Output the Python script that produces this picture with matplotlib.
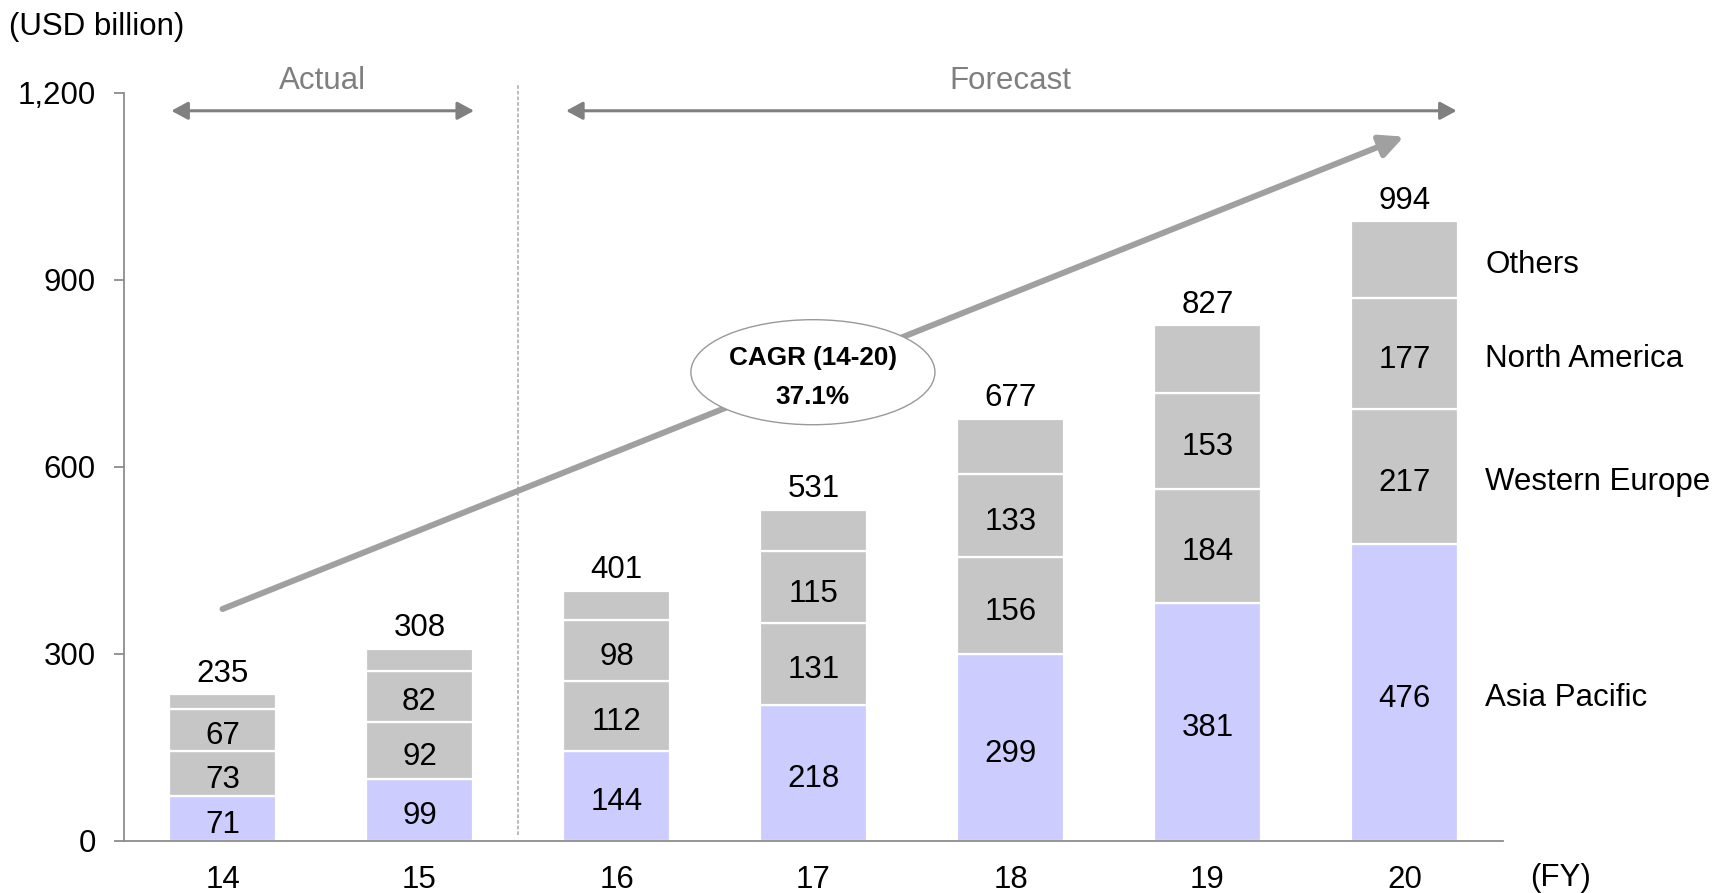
import matplotlib
matplotlib.use("Agg")
import matplotlib.pyplot as plt
from matplotlib.patches import Ellipse
from matplotlib.ticker import FuncFormatter, FixedLocator

plt.rcParams['font.family'] = ['Liberation Sans', 'DejaVu Sans']

# Market size by region (USD billion), fiscal years 2014-2020
years = ["14", "15", "16", "17", "18", "19", "20"]
asia_pacific = [71, 99, 144, 218, 299, 381, 476]
western_europe = [73, 92, 112, 131, 156, 184, 217]
north_america = [67, 82, 98, 115, 133, 153, 177]
totals = [235, 308, 401, 531, 677, 827, 994]
others = [t - a - w - n for t, a, w, n in zip(totals, asia_pacific, western_europe, north_america)]

region_names = ["Asia Pacific", "Western Europe", "North America", "Others"]
region_colors = ["#CCCCFF", "#C6C6C6", "#C6C6C6", "#C6C6C6"]
labelled_regions = [True, True, True, False]
y_ticks = [0, 300, 600, 900, 1200]

cagr_title = "CAGR (14-20)"
cagr_value = "37.1%"

FS = 22.5

fig = plt.figure(figsize=(17.29, 8.93), dpi=100)
ax = fig.add_axes([124 / 1729, 52.3 / 893, 1379 / 1729, 748 / 893])

x = list(range(len(years)))
bar_w = 0.543
series = [asia_pacific, western_europe, north_america, others]
bottoms = [0] * len(years)
seg_centers_last = []
for vals, color, show in zip(series, region_colors, labelled_regions):
    ax.bar(x, vals, width=bar_w, bottom=bottoms, color=color,
           edgecolor="white", linewidth=1.6, zorder=2)
    for i, (v, b) in enumerate(zip(vals, bottoms)):
        if show:
            ax.text(i, b + v / 2 - 10, f"{v}", ha="center", va="center",
                    fontsize=FS, color="black", zorder=3)
    seg_centers_last.append(bottoms[-1] + vals[-1] / 2)
    bottoms = [b + v for b, v in zip(bottoms, vals)]

# totals above bars
for i, t in enumerate(totals):
    ax.text(i, t + 33, f"{t}", ha="center", va="center", fontsize=FS, color="black")

# region labels beside the last bar
for name, yc in zip(region_names, seg_centers_last):
    ax.text(6.41, yc - 9, name, ha="left", va="center", fontsize=FS, color="black",
            clip_on=False)

# axes styling
axis_gray = "#8C8C8C"
ax.set_xlim(-0.5, 6.5)
ax.set_ylim(0, 1200)
for s in ("top", "right"):
    ax.spines[s].set_visible(False)
for s in ("left", "bottom"):
    ax.spines[s].set_color(axis_gray)
    ax.spines[s].set_linewidth(1.3)
ax.yaxis.set_major_locator(FixedLocator(y_ticks))
ax.yaxis.set_major_formatter(FuncFormatter(lambda v, p: f"{int(v):,}"))
ax.tick_params(axis="y", direction="out", length=7.2, width=1.3, color=axis_gray,
               pad=13.2, labelsize=FS, labelcolor="black")
ax.set_xticks(x)
ax.set_xticklabels(years)
ax.tick_params(axis="x", length=0, pad=17.5, labelsize=FS, labelcolor="black")

ax.text(6.79, -0.0505, "(FY)", transform=ax.get_xaxis_transform(), ha="center",
        va="center", fontsize=FS, clip_on=False)
fig.text(9 / 1729, 1 - 27.5 / 893, "(USD billion)", ha="left", va="center", fontsize=FS)

# actual / forecast divider
ax.plot([1.5, 1.5], [9, 1212], color="#A8A8A8", lw=1.1, dashes=(2.4, 1.3), zorder=1,
        clip_on=False)

arrow_gray = "#808080"
span_style = "<|-|>,head_length=0.5,head_width=0.27"
ax.annotate("", xy=(1.277, 1171), xytext=(-0.26, 1171),
            arrowprops=dict(arrowstyle=span_style, mutation_scale=20, color=arrow_gray,
                            lw=2.2, shrinkA=0, shrinkB=0), annotation_clip=False)
ax.annotate("", xy=(6.265, 1171), xytext=(1.744, 1171),
            arrowprops=dict(arrowstyle=span_style, mutation_scale=20, color=arrow_gray,
                            lw=2.2, shrinkA=0, shrinkB=0), annotation_clip=False)
ax.text(0.51, 1218, "Actual", ha="center", va="center", fontsize=FS,
        color="#7F7F7F", clip_on=False)
ax.text(4.0, 1218, "Forecast", ha="center", va="center", fontsize=FS,
        color="#7F7F7F", clip_on=False)

# growth trend arrow with CAGR bubble
ax.annotate("", xy=(5.997, 1129.5), xytext=(0.0, 371.7),
            arrowprops=dict(arrowstyle="-|>,head_length=0.7,head_width=0.34",
                            mutation_scale=20, color="#A0A0A0", lw=4.3,
                            shrinkA=0, shrinkB=0), zorder=4)
ax.add_patch(Ellipse((2.997, 751.6), 1.239, 168.5, facecolor="white",
                     edgecolor="#999999", lw=1.0, zorder=5))
ax.text(2.997, 775, cagr_title, ha="center", va="center", fontsize=18.8,
        fontweight="bold", zorder=6)
ax.text(2.997, 712, cagr_value, ha="center", va="center", fontsize=18.8,
        fontweight="bold", zorder=6)

fig.savefig("out.png", dpi=100)
